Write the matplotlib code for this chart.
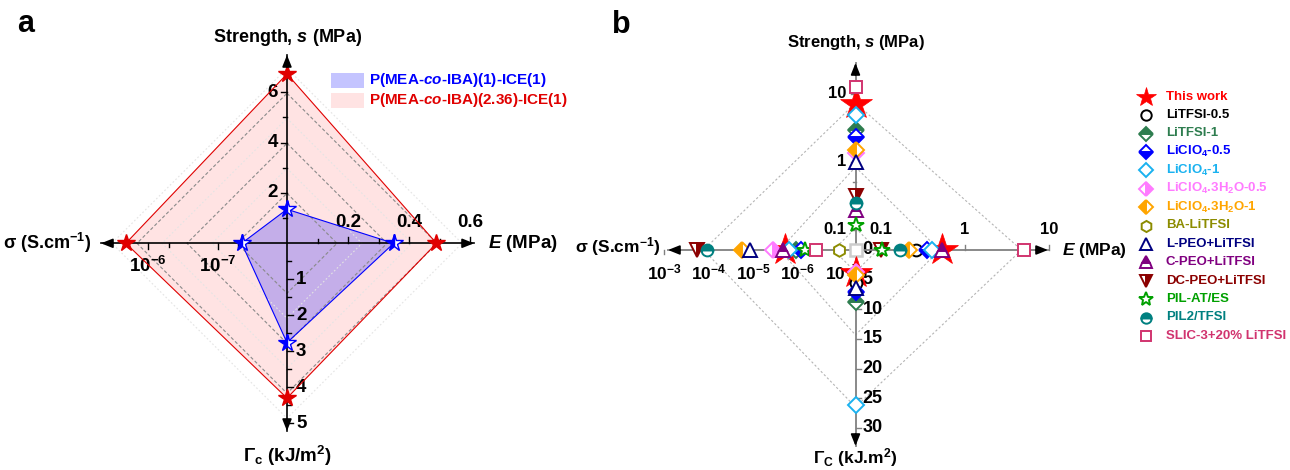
import numpy as np
import matplotlib
matplotlib.use('Agg')
import matplotlib.pyplot as plt
from matplotlib.patches import Polygon, Rectangle

plt.rcParams['font.family'] = ['Liberation Sans', 'DejaVu Sans']
plt.rcParams['font.weight'] = 'bold'
plt.rcParams['mathtext.fontset'] = 'custom'
plt.rcParams['mathtext.default'] = 'regular'
plt.rcParams['mathtext.rm'] = 'Liberation Sans:bold'
plt.rcParams['mathtext.bf'] = 'Liberation Sans:bold'
plt.rcParams['mathtext.it'] = 'Liberation Sans:italic:bold'

nan = np.nan

# ---------------- data : panel a ----------------
a_names = ['P(MEA-$\\mathit{co}$-IBA)(1)-ICE(1)', 'P(MEA-$\\mathit{co}$-IBA)(2.36)-ICE(1)']
a_strength = [1.35, 6.72]          # MPa
a_modulus = [0.35, 0.49]           # MPa
a_toughness = [2.76, 4.30]         # kJ/m2
a_conductivity = [4.5e-8, 2.1e-6]  # S/cm
a_s_major = [2, 4, 6]
a_s_minor = [1, 3, 5]
a_E_major = [0.2, 0.4, 0.6]
a_E_minor = [0.1, 0.3, 0.5]
a_G_major = [1, 2, 3, 4, 5]
a_G_minor = [0.5, 1.5, 2.5, 3.5, 4.5]
a_sig_major = [1e-6, 1e-7]
a_sig_minor = [5e-7, 5e-8]

# ---------------- data : panel b ----------------
b_names = ['This work', 'LiTFSI-0.5', 'LiTFSI-1', 'LiClO$_4$-0.5', 'LiClO$_4$-1',
           'LiClO$_4$.3H$_2$O-0.5', 'LiClO$_4$.3H$_2$O-1', 'BA-LiTFSI', 'L-PEO+LiTFSI',
           'C-PEO+LiTFSI', 'DC-PEO+LiTFSI', 'PIL-AT/ES', 'PIL2/TFSI', 'SLIC-3+20% LiTFSI']
b_strength = [7.0, nan, 2.86, 2.3, 4.9, 1.32, 1.48, nan, 1.0, 0.195, 0.31, 0.117, 0.245, 12.3]
b_modulus = [0.54, 0.26, nan, 0.356, 0.41, nan, 0.215, nan, nan, 0.54, 0.10, 0.104, 0.171, 5.1]
b_conductivity = [1.9e-6, nan, 1.1e-6, 8.6e-7, 1.6e-6, 3.5e-6, 1.8e-5, 1.2e-7, 1.15e-5,
                  2.1e-6, 1.8e-4, 6.7e-7, 1.07e-4, 3.8e-7]
b_toughness = [3.9, 5.6, 8.7, 7.1, 26.1, 3.7, 4.2, nan, 6.4, nan, nan, nan, nan, nan]
b_s_major = [0.1, 1, 10]
b_s_minor = [0.5, 5]
b_E_major = [0.1, 1, 10]
b_G_major = [5, 10, 15, 20, 25, 30]
b_sig_major = [1e-3, 1e-4, 1e-5, 1e-6, 1e-7]
b_axis_min = {'s': 0.05, 'E': 0.05, 'sig': 5e-8, 'G': 0.0}

# ---------------- styles ----------------
b_markers = ['*', 'o', 'D', 'D', 'D', 'D', 'D', 'h', '^', '^', 'v', '*', 'o', 's']
b_fills = ['full', 'open', 'top', 'bottom', 'open', 'right', 'left', 'open', 'open',
           'top', 'right', 'open', 'top', 'open']
b_colors = ['#FF0000', '#000000', '#2E7D4F', '#0000FF', '#1AB2F0', '#FF7BFF', '#FFA500',
            '#8C8C00', '#000080', '#800080', '#8B0000', '#00A000', '#008080', '#D1346F']
b_sizes = {'*': 11.5, 'o': 8.5, 'D': 8.5, 'h': 9, '^': 10, 'v': 10, 's': 8}
b_leg_sizes = {'*': 10, 'o': 7.5, 'D': 7.5, 'h': 8, '^': 9, 'v': 9, 's': 7.5}

# ---------------- geometry (pixel canvas) ----------------
W, H = 1290, 470
fig = plt.figure(figsize=(W / 100, H / 100), dpi=100)
ax = fig.add_axes([0, 0, 1, 1])
ax.set_xlim(0, W)
ax.set_ylim(H, 0)
ax.axis('off')

AX, AY = 287.0, 243.3
BX, BY = 855.5, 250.0


def a_s(v):
    return AY - 25.2 * np.asarray(v, float)


def a_E(v):
    return AX + 305.0 * np.asarray(v, float)


def a_G(v):
    return AY + 36.0 * np.asarray(v, float)


def a_sig(v):
    return AX - 69.4 * (np.log10(np.asarray(v, float)) + 8.0)


def b_s(v):
    return BY - 68.0 * (np.log10(np.asarray(v, float)) - np.log10(b_axis_min['s']))


def b_E(v):
    return BX + 84.0 * (np.log10(np.asarray(v, float)) - np.log10(b_axis_min['E']))


def b_sig(v):
    return BX - 44.5 * (np.log10(np.asarray(v, float)) - np.log10(b_axis_min['sig']))


def b_G(v):
    return BY + 5.93 * (np.asarray(v, float) - b_axis_min['G'])


def arrow(tip, d, color='black'):
    ax.annotate('', xy=tip, xytext=(tip[0] - d[0] * 12, tip[1] - d[1] * 12),
                arrowprops=dict(arrowstyle='-|>,head_length=0.7,head_width=0.28',
                                color=color, lw=1.2, shrinkA=0, shrinkB=0), zorder=6)


def diamond(cx, cy, rt, rr, rb, rl, **kw):
    xs = [cx, cx + rr, cx, cx - rl, cx]
    ys = [cy - rt, cy, cy + rb, cy, cy - rt]
    ax.plot(xs, ys, **kw)


# ================= panel a =================
for i, (fc, ec, a) in enumerate([('#FF0000', '#E00000', 0.11), ('#0000FF', '#0000FF', 0.23)]):
    j = 1 - i
    pts = [(AX, a_s(a_strength[j])), (a_E(a_modulus[j]), AY),
           (AX, a_G(a_toughness[j])), (a_sig(a_conductivity[j]), AY)]
    ax.add_patch(Polygon(pts, closed=True, facecolor=fc, alpha=a, edgecolor='none', zorder=1))
    ax.add_patch(Polygon(pts, closed=True, facecolor='none', edgecolor=ec, lw=0.8, zorder=3))

for r in (50, 100, 150):
    diamond(AX, AY, r, r, r, r, color='#8a8a8a', lw=0.8, ls=(0, (3, 2)), zorder=2)
for r in (75, 125, 175):
    diamond(AX, AY, r, r, r, r, color='#e4e4e4', lw=0.8, ls=(0, (1.5, 2)), zorder=2)

ax.plot([AX, AX], [55, 431], color='black', lw=1.2, zorder=4)
ax.plot([101, 474], [AY, AY], color='black', lw=1.2, zorder=4)
arrow((AX, 55), (0, -1))
arrow((AX, 431), (0, 1))
arrow((101, AY), (-1, 0))
arrow((474, AY), (1, 0))

for v in a_s_major + a_s_minor:
    L = 6 if v in a_s_major else 4
    ax.plot([AX - L, AX], [a_s(v)] * 2, color='black', lw=1, zorder=4)
for v in a_E_major + a_E_minor:
    L = 6 if v in a_E_major else 4
    ax.plot([a_E(v)] * 2, [AY, AY - L], color='black', lw=1, zorder=4)
for v in a_G_major + a_G_minor:
    L = 6 if v in a_G_major else 4
    ax.plot([AX, AX + L], [a_G(v)] * 2, color='black', lw=1, zorder=4)
for v in a_sig_major + a_sig_minor:
    L = 6 if v in a_sig_major else 4
    ax.plot([a_sig(v)] * 2, [AY, AY + L], color='black', lw=1, zorder=4)

for v in a_s_major:
    ax.text(AX - 9, a_s(v), f'{v:g}', ha='right', va='center', fontsize=13.5, zorder=2)
for v in a_E_major:
    ax.text(a_E(v), AY - 21, f'{v:g}', ha='center', va='center', fontsize=13.5, zorder=2)
for v in a_G_major:
    ax.text(AX + 9, a_G(v), f'{v:g}', ha='left', va='center', fontsize=13.5, zorder=2)
for v in a_sig_major:
    ax.text(a_sig(v), AY + 23, '$10^{%d}$' % round(np.log10(v)), ha='center', va='center',
            fontsize=13.5, zorder=2)

for j, (c, fs) in enumerate([('#0000FF', 'left'), ('#E00000', 'full')]):
    xs = [AX, a_E(a_modulus[j]), AX, a_sig(a_conductivity[j])]
    ys = [a_s(a_strength[j]), AY, a_G(a_toughness[j]), AY]
    ax.plot(xs, ys, ls='none', marker='*', ms=13, color=c, mec=c, mew=1.0,
            fillstyle=fs, markerfacecoloralt='white', zorder=5)

ax.text(AX + 1, 37, 'Strength, $\\mathit{s}$ (MPa)', ha='center', va='center', fontsize=13)
ax.text(488, AY, '$\\mathit{E}$ (MPa)', ha='left', va='center', fontsize=13.5)
ax.text(91, AY, 'σ (S.cm$^{-1}$)', ha='right', va='center', fontsize=13)
ax.text(AX, 456, 'Γ$_c$ (kJ/m$^2$)', ha='center', va='center', fontsize=13.5)
ax.text(26, 24, 'a', ha='center', va='center', fontsize=22)

ax.add_patch(Rectangle((331, 72.5), 33, 15, facecolor='#0000FF', alpha=0.23, edgecolor='none'))
ax.add_patch(Rectangle((331, 92.5), 33, 15, facecolor='#FF0000', alpha=0.11, edgecolor='none'))
ax.text(369, 80, a_names[0], color='#0000FF', ha='left', va='center', fontsize=11)
ax.text(369, 100, a_names[1], color='#E00000', ha='left', va='center', fontsize=11)

# ================= panel b =================
gk = dict(color='#b4b4b4', lw=0.8, ls=(0, (2, 2)), zorder=2)
diamond(BX, BY, 147, 166, 157, 152, **gk)
diamond(BX, BY, 83, 84, 85, 76, **gk)
diamond(BX, BY, 22, 22, 22, 22, **gk)

ax.plot([BX, BX], [63, 446], color='#808080', lw=1.3, zorder=3)
ax.plot([668, 1048], [BY, BY], color='#808080', lw=1.3, zorder=3)
arrow((BX, 63), (0, -1))
arrow((BX, 446), (0, 1))
arrow((668, BY), (-1, 0))
arrow((1048, BY), (1, 0))

for v in b_s_major + b_s_minor:
    L = 5 if v in b_s_major else 3
    ax.plot([BX - L, BX], [b_s(v)] * 2, color='#808080', lw=1, zorder=3)
for v in b_E_major:
    ax.plot([b_E(v)] * 2, [BY, BY - 5], color='#808080', lw=1, zorder=3)
for v in b_G_major:
    ax.plot([BX, BX + 5], [b_G(v)] * 2, color='#808080', lw=1, zorder=3)
for v in b_sig_major:
    ax.plot([b_sig(v)] * 2, [BY, BY + 4], color='#808080', lw=1, zorder=3)

for v in b_s_major:
    ax.text(BX - 9, b_s(v), f'{v:g}', ha='right', va='center', fontsize=12, zorder=2)
for v in b_E_major:
    ax.text(b_E(v), 230, f'{v:g}', ha='center', va='center', fontsize=12, zorder=2)
for v in [0] + b_G_major:
    ax.text(BX + 7, b_G(v), f'{v:g}', ha='left', va='center', fontsize=13, zorder=2)
for v in b_sig_major:
    ax.text(b_sig(v), 272, '$10^{%d}$' % round(np.log10(v)), ha='center', va='center',
            fontsize=12.5, zorder=2)

ax.text(BX, 42, 'Strength, $\\mathit{s}$ (MPa)', ha='center', va='center', fontsize=12)
ax.text(1062, BY, '$\\mathit{E}$ (MPa)', ha='left', va='center', fontsize=12.5)
ax.text(661, BY - 3, 'σ (S.cm$^{-1}$)', ha='right', va='center', fontsize=12.5)
ax.text(BX, 458, 'Γ$_C$ (kJ.m$^2$)', ha='center', va='center', fontsize=12.5)
ax.text(621, 25, 'b', ha='center', va='center', fontsize=22)

ax.plot([b_E(b_axis_min['E'])], [b_s(b_axis_min['s'])], marker='s', ms=8, mfc='white',
        mec='#cccccc', mew=1.8, ls='none', zorder=4)


def mstyle(i, legend=False):
    m = b_markers[i]
    c = b_colors[i]
    if i == 0:
        ms = 15 if legend else 24
    else:
        ms = (b_leg_sizes if legend else b_sizes)[m]
    kw = dict(marker=m, ms=ms, mec=c, mew=1.4, ls='none')
    if b_fills[i] == 'full':
        kw.update(mfc=c, mew=0.5)
    elif b_fills[i] == 'open':
        kw.update(mfc='white')
    else:
        kw.update(mfc=c, fillstyle=b_fills[i], markerfacecoloralt='white')
    return kw


for i in range(len(b_names)):
    kw = mstyle(i)
    z = 5 if i == 0 else 6
    if not np.isnan(b_strength[i]):
        ax.plot([BX], [b_s(b_strength[i])], zorder=z, **kw)
    if not np.isnan(b_modulus[i]):
        ax.plot([b_E(b_modulus[i])], [BY], zorder=z, **kw)
    if not np.isnan(b_conductivity[i]):
        ax.plot([b_sig(b_conductivity[i])], [BY], zorder=z, **kw)
    if not np.isnan(b_toughness[i]):
        ax.plot([BX], [b_G(b_toughness[i])], zorder=z, **kw)

for i, name in enumerate(b_names):
    y = 96.7 + 18.4 * i
    ax.plot([1146], [y], zorder=6, **mstyle(i, legend=True))
    ax.text(1166, y, name, color=b_colors[i], ha='left', va='center', fontsize=9.5)

fig.savefig('out.png', dpi=100)
